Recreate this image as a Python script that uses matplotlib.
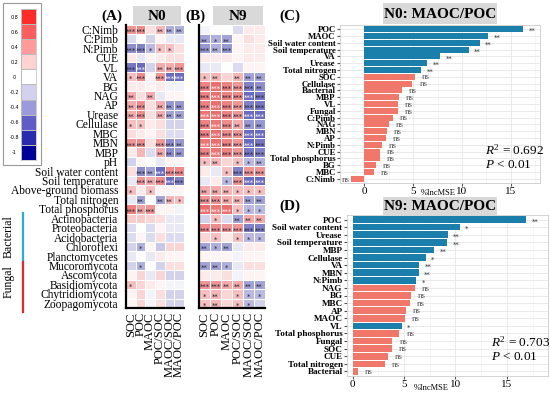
import numpy as np
import matplotlib
matplotlib.use("Agg")
import matplotlib.pyplot as plt
from matplotlib.colors import LinearSegmentedColormap, ListedColormap
from matplotlib.patches import Rectangle

plt.rcParams['font.family'] = ['Liberation Serif', 'DejaVu Serif']
plt.rcParams['mathtext.fontset'] = 'custom'
plt.rcParams['mathtext.rm'] = 'Liberation Serif'
plt.rcParams['mathtext.it'] = 'Liberation Serif:italic'

# ---------------- data ----------------
rows = ['C:Nimb', 'C:Pimb', 'N:Pimb', 'CUE', 'VL', 'VA', 'BG', 'NAG', 'AP', 'Urease',
        'Cellulase', 'MBC', 'MBN', 'MBP', 'pH', 'Soil water content', 'Soil temperature',
        'Above-ground biomass', 'Total nitrogen', 'Total phosphorus', 'Actinobacteria',
        'Proteobacteria', 'Acidobacteria', 'Chloroflexi', 'Planctomycetes', 'Mucoromycota',
        'Ascomycota', 'Basidiomycota', 'Chytridiomycota', 'Zoopagomycota']
cols = ['SOC', 'POC', 'MAOC', 'POC/SOC', 'MAOC/SOC', 'MAOC/POC']

n0_vals = [
    [0.50, 0.55, 0.15, 0.35, -0.35, -0.35],
    [-0.15, 0.00, -0.20, 0.05, -0.10, -0.10],
    [-0.50, -0.55, -0.30, 0.30, 0.30, 0.15],
    [0.10, -0.10, 0.05, 0.10, 0.15, 0.15],
    [-0.60, -0.65, -0.20, 0.40, 0.40, 0.50],
    [0.30, 0.55, 0.05, 0.50, -0.65, -0.65],
    [0.10, 0.10, 0.05, 0.10, -0.05, -0.05],
    [0.40, 0.15, 0.40, -0.10, 0.05, 0.05],
    [0.40, 0.55, 0.15, 0.40, -0.45, -0.45],
    [0.40, 0.55, 0.15, 0.40, -0.40, -0.40],
    [0.30, 0.30, 0.10, 0.15, -0.20, -0.20],
    [0.15, 0.10, 0.05, 0.15, -0.15, -0.15],
    [0.50, 0.55, 0.15, 0.50, -0.50, -0.45],
    [0.10, 0.35, -0.15, 0.40, -0.50, -0.45],
    [-0.20, 0.05, 0.00, -0.10, 0.05, 0.05],
    [0.15, -0.50, -0.40, -0.65, 0.55, 0.55],
    [-0.10, 0.50, 0.40, 0.55, -0.65, -0.55],
    [0.30, 0.10, 0.30, 0.05, 0.05, 0.05],
    [-0.10, -0.40, 0.00, -0.40, 0.35, 0.30],
    [0.60, 0.45, 0.50, 0.05, 0.05, -0.05],
    [0.25, 0.25, 0.20, 0.15, -0.10, -0.10],
    [-0.15, 0.00, -0.15, 0.05, -0.10, -0.10],
    [-0.15, 0.05, -0.15, 0.15, -0.15, -0.15],
    [-0.20, -0.35, 0.05, -0.25, 0.20, 0.20],
    [-0.10, 0.00, -0.10, 0.10, 0.05, 0.05],
    [-0.20, -0.35, 0.00, -0.20, 0.15, 0.15],
    [0.05, 0.20, -0.10, 0.20, -0.20, -0.20],
    [0.30, 0.20, 0.10, 0.05, -0.05, -0.05],
    [0.05, 0.20, -0.05, 0.15, -0.20, -0.20],
    [0.05, 0.20, -0.05, 0.15, -0.20, -0.20],
]
n0_stars = [
    ['***', '***', '', '**', '**', '**'],
    ['', '', '', '', '', ''],
    ['***', '***', '*', '*', '*', ''],
    ['', '', '', '', '', ''],
    ['***', '***', '', '**', '**', '***'],
    ['*', '***', '', '***', '***', '***'],
    ['', '', '', '', '', ''],
    ['**', '', '**', '', '', ''],
    ['**', '***', '', '**', '**', '**'],
    ['**', '***', '', '**', '**', '**'],
    ['*', '*', '', '', '', ''],
    ['', '', '', '', '', ''],
    ['***', '***', '', '***', '***', '**'],
    ['', '', '', '**', '**', '**'],
    ['', '', '', '', '', ''],
    ['', '***', '**', '***', '***', '***'],
    ['', '***', '**', '***', '***', '***'],
    ['*', '', '*', '', '', ''],
    ['', '**', '', '**', '**', '*'],
    ['***', '**', '***', '', '', ''],
    ['', '', '', '', '', ''],
    ['', '', '', '', '', ''],
    ['', '', '', '', '', ''],
    ['', '*', '', '', '', ''],
    ['', '', '', '', '', ''],
    ['', '*', '', '', '', ''],
    ['', '', '', '', '', ''],
    ['*', '', '', '', '', ''],
    ['', '', '', '', '', ''],
    ['', '', '', '', '', ''],
]

n9_vals = [
    [-0.05, 0.00, 0.00, -0.15, 0.10, 0.10],
    [-0.40, -0.35, -0.40, 0.05, 0.15, 0.10],
    [-0.45, -0.35, -0.45, 0.05, 0.10, 0.10],
    [0.10, 0.10, 0.10, 0.05, 0.10, 0.10],
    [-0.10, -0.10, 0.00, -0.15, 0.05, 0.05],
    [0.30, 0.35, 0.20, 0.35, -0.40, -0.40],
    [0.60, 0.70, 0.60, 0.50, -0.55, -0.50],
    [0.60, 0.70, 0.60, 0.55, -0.65, -0.60],
    [0.60, 0.70, 0.60, 0.50, -0.55, -0.60],
    [0.65, 0.70, 0.60, 0.50, -0.65, -0.65],
    [0.60, 0.65, 0.55, 0.40, -0.45, -0.45],
    [0.60, 0.70, 0.55, 0.50, -0.65, -0.65],
    [0.65, 0.70, 0.60, 0.50, -0.65, -0.60],
    [0.60, 0.65, 0.60, 0.50, -0.60, -0.55],
    [0.30, 0.35, 0.20, 0.30, -0.30, -0.35],
    [0.10, -0.10, 0.30, -0.55, 0.50, 0.50],
    [-0.10, 0.10, -0.30, 0.50, -0.65, -0.65],
    [0.40, 0.40, 0.35, 0.30, 0.30, 0.30],
    [0.50, 0.50, 0.40, 0.35, -0.40, -0.40],
    [0.70, 0.65, 0.70, 0.30, -0.30, -0.30],
    [-0.20, 0.30, -0.15, -0.40, 0.40, 0.40],
    [0.55, 0.55, 0.50, 0.50, -0.55, -0.55],
    [0.20, 0.30, 0.10, 0.30, -0.30, -0.30],
    [-0.40, -0.35, -0.40, -0.10, 0.10, 0.10],
    [0.05, 0.05, 0.05, -0.05, 0.05, 0.05],
    [-0.40, -0.40, -0.35, -0.10, 0.15, 0.15],
    [0.10, 0.10, 0.15, -0.05, 0.05, 0.05],
    [0.50, 0.50, 0.40, 0.40, -0.40, -0.40],
    [0.30, 0.35, 0.20, 0.30, -0.30, -0.30],
    [0.30, 0.35, 0.20, 0.30, -0.30, -0.20],
]
n9_stars = [
    ['', '', '', '', '', ''],
    ['**', '*', '**', '', '', ''],
    ['***', '**', '***', '', '', ''],
    ['', '', '', '', '', ''],
    ['', '', '', '', '', ''],
    ['*', '**', '', '**', '**', '**'],
    ['***', '***', '***', '***', '***', '**'],
    ['***', '***', '***', '***', '***', '***'],
    ['***', '***', '***', '***', '***', '***'],
    ['***', '***', '***', '***', '***', '***'],
    ['***', '***', '***', '**', '**', '**'],
    ['***', '***', '***', '***', '***', '***'],
    ['***', '***', '***', '***', '***', '***'],
    ['***', '***', '***', '***', '***', '***'],
    ['*', '**', '', '*', '*', '**'],
    ['', '', '*', '***', '***', '***'],
    ['', '', '*', '***', '***', '***'],
    ['**', '**', '**', '*', '*', '*'],
    ['***', '***', '**', '**', '**', '**'],
    ['***', '***', '***', '*', '*', '*'],
    ['', '*', '', '**', '**', '**'],
    ['***', '***', '***', '***', '***', '***'],
    ['', '*', '', '*', '*', '*'],
    ['**', '*', '**', '', '', ''],
    ['', '', '', '', '', ''],
    ['**', '**', '*', '', '', ''],
    ['', '', '', '', '', ''],
    ['***', '***', '**', '**', '**', '**'],
    ['*', '**', '', '*', '*', '*'],
    ['*', '**', '', '*', '*', ''],
]

cbar_labels = ['0.8', '0.6', '0.4', '0.2', '0', '-0.2', '-0.4', '-0.6', '-0.8', '-1']

c_labels = ['POC', 'MAOC', 'Soil water content', 'Soil temperature', 'VA', 'Urease',
            'Total nitrogen', 'SOC', 'Cellulase', 'Bacterial', 'MBP', 'VL', 'Fungal',
            'C:Pimb', 'NAG', 'MBN', 'AP', 'N:Pimb', 'CUE', 'Total phosphorus', 'BG',
            'MBC', 'C:Nimb']
c_vals = [16.3, 12.65, 11.8, 10.7, 7.75, 6.4, 5.8, 5.17, 4.93, 3.88, 3.54, 3.47, 3.47,
          2.93, 2.52, 2.28, 2.21, 1.80, 1.63, 1.60, 1.19, 0.99, -1.39]
c_sig = ['**'] * 7 + ['ns'] * 16

d_labels = ['POC', 'Soil water content', 'Urease', 'Soil temperature', 'MBP', 'Cellulase',
            'VA', 'MBN', 'N:Pimb', 'NAG', 'BG', 'MBC', 'AP', 'MAOC', 'VL',
            'Total phosphorus', 'Fungal', 'SOC', 'CUE', 'Total nitrogen', 'Bacterial']
d_vals = [16.9, 10.4, 9.25, 9.2, 7.95, 7.1, 6.46, 6.43, 6.17, 6.07, 5.68, 5.58, 5.19,
          5.1, 4.77, 4.55, 3.86, 3.8, 3.41, 3.12, 0.52]
d_sig = ['**', '*', '**', '**', '**', '*', '**', '**', '*', 'ns', 'ns', 'ns', 'ns', 'ns',
         '*', 'ns', 'ns', 'ns', 'ns', 'ns', 'ns']

# ---------------- figure ----------------
W, H = 550, 393
fig = plt.figure(figsize=(5.5, 3.93), dpi=100)


def ax_px(x0, y0, x1, y1, **kw):
    return fig.add_axes([x0 / W, 1 - y1 / H, (x1 - x0) / W, (y1 - y0) / H], **kw)


ov = ax_px(0, 0, W, H)
ov.set_xlim(0, W)
ov.set_ylim(H, 0)
ov.axis('off')

cell_cmap = LinearSegmentedColormap.from_list(
    'rb', ['#1c1c9c', '#ffffff', '#e62e2e'], N=256)
bar_colors = ['#ff2a2a', '#ff5e5e', '#ff9b9b', '#ffd2d2', '#ffffff',
              '#d2d2f0', '#9b9bdc', '#5e5ec4', '#2a2aad', '#000099']

# colorbar
ov.add_patch(Rectangle((3, 3), 38, 162, fill=False, ec='#999999', lw=0.8))
cax = ax_px(21, 9, 36, 160)
cax.pcolormesh(np.arange(2), np.arange(11), np.arange(10).reshape(10, 1),
               cmap=ListedColormap(bar_colors), vmin=-0.5, vmax=9.5,
               edgecolors='#bbbbbb', linewidth=0.4)
cax.set_ylim(10, 0)
cax.set_xlim(0, 1)
cax.set_xticks([])
cax.set_yticks(np.arange(10) + 0.5)
cax.set_yticklabels(cbar_labels, fontsize=3.5, family='DejaVu Sans')
cax.tick_params(axis='y', length=0, pad=5)
for t in cax.get_yticklabels():
    t.set_horizontalalignment('center')
for s in cax.spines.values():
    s.set_color('#bbbbbb')
    s.set_linewidth(0.5)


def heat(ax, vals, stars, show_rows):
    v = np.array(vals)
    ax.pcolormesh(np.arange(7), np.arange(31), v, cmap=cell_cmap, vmin=-1, vmax=1,
                  edgecolors='white', linewidth=0.4)
    ax.set_xlim(0, 6)
    ax.set_ylim(30, 0)
    for i in range(v.shape[0]):
        for j in range(v.shape[1]):
            s = stars[i][j]
            if s:
                col = 'white' if abs(v[i, j]) > 0.62 else '#222233'
                ax.text(j + 0.5, i + 0.78, s, ha='center', va='center', fontsize=5,
                        color=col, family='DejaVu Sans')
    ax.set_xticks(np.arange(6) + 0.5)
    ax.set_xticklabels(cols, rotation=90, fontsize=9)
    ax.tick_params(axis='x', length=0, pad=3)
    if show_rows:
        ax.set_yticks(np.arange(30) + 0.5)
        ax.set_yticklabels(rows, fontsize=8.3)
        ax.tick_params(axis='y', length=0, pad=5.5)
    else:
        ax.set_yticks([])
    for k in ['top', 'right']:
        ax.spines[k].set_visible(False)
    for k in ['left', 'bottom']:
        ax.spines[k].set_linewidth(1.6)
        ax.spines[k].set_color('black')


axA = ax_px(126, 24.6, 184, 308)
heat(axA, n0_vals, n0_stars, True)
axB = ax_px(199, 24.6, 265, 308)
heat(axB, n9_vals, n9_stars, False)

# headers
for (x0, x1, lab) in [(133, 181, 'N0'), (213, 263, 'N9')]:
    ov.add_patch(Rectangle((x0, 6), x1 - x0, 19, color='#d9d9d9', lw=0))
    ov.text((x0 + x1) / 2, 16, lab, ha='center', va='center', fontsize=11, fontweight='bold')
ov.text(112, 16, '(A)', ha='center', va='center', fontsize=11, fontweight='bold')
ov.text(195, 16, '(B)', ha='center', va='center', fontsize=11, fontweight='bold')
ov.text(290, 16, '(C)', ha='center', va='center', fontsize=11, fontweight='bold')
ov.text(290, 206, '(D)', ha='center', va='center', fontsize=11, fontweight='bold')

# group labels
ov.plot([22.7, 22.7], [213, 260], color='#29aae1', lw=1.6)
ov.plot([22.7, 22.7], [262, 312], color='#e8262b', lw=1.6)
ov.text(9, 237, 'Bacterial', rotation=90, ha='center', va='center', fontsize=8.5)
ov.text(9, 282, 'Fungal', rotation=90, ha='center', va='center', fontsize=8.5)


def bars(ax, labels, vals, sig, xlim, r2, lfs, tx, ty, lx, ly):
    n = len(vals)
    y = np.arange(n)
    colors = ['#1b7fab' if s != 'ns' else '#f2776b' for s in sig]
    ax.set_axisbelow(True)
    ax.barh(y, vals, height=0.88, color=colors)
    ax.set_ylim(n - 0.4, -0.6)
    ax.set_xlim(*xlim)
    ax.set_yticks(y)
    ax.set_yticklabels(labels, fontsize=lfs, fontweight='bold')
    ax.set_xticks([0, 5, 10, 15])
    ax.set_xticks([2.5, 7.5, 12.5, 17.5], minor=True)
    ax.tick_params(axis='x', labelsize=8, length=2, pad=1, color='#555555')
    ax.tick_params(axis='x', which='minor', length=0)
    ax.tick_params(axis='y', length=2, pad=1, color='#555555')
    ax.grid(True, which='major', color='#e6e6e6', lw=0.6)
    ax.grid(True, which='minor', axis='x', color='#f0f0f0', lw=0.4)
    for s in ax.spines.values():
        s.set_color('#cccccc')
        s.set_linewidth(0.6)
    for yi, v, s in zip(y, vals, sig):
        if v < 0:
            ax.annotate(s, (v, yi), xytext=(-1, -0.5), textcoords='offset points',
                        ha='right', va='center', fontsize=6.5, color='#555555')
        elif s == 'ns':
            ax.annotate(s, (v, yi), xytext=(5, -0.5), textcoords='offset points',
                        ha='left', va='center', fontsize=6.5, color='#555555')
        else:
            ax.annotate(s, (v, yi), xytext=(4, -1.5), textcoords='offset points',
                        ha='left', va='center', fontsize=5, color='#333333',
                        family='DejaVu Sans')
    ax.set_xlabel('%IncMSE', fontsize=6)
    ax.xaxis.set_label_coords(lx, ly)
    ax.text(tx, ty, r'$R^2$ = ' + r2, transform=ax.transAxes, ha='left',
            va='center', fontsize=9.5)
    ax.text(tx, ty - 0.095, r'$P$ < 0.01', transform=ax.transAxes, ha='left',
            va='center', fontsize=9.5)


axC = ax_px(340, 25, 540, 183)
bars(axC, c_labels, c_vals, c_sig, (-2.5, 18.0), '0.692', 6.3, 0.725, 0.21, 0.49, -0.04)
axD = ax_px(346.7, 215, 548, 376)
bars(axD, d_labels, d_vals, d_sig, (-0.58, 19.0), '0.703', 6.6, 0.715, 0.21, 0.42, -0.05)

for (y0, y1, lab) in [(3, 24, 'N0: MAOC/POC'), (197, 215, 'N9: MAOC/POC')]:
    ov.add_patch(Rectangle((383, y0), 114, y1 - y0, color='#d9d9d9', lw=0, zorder=0))
    ov.text(440, (y0 + y1) / 2 + 0.5, lab, ha='center', va='center', fontsize=11,
            fontweight='bold')

fig.savefig('out.png', dpi=100)
